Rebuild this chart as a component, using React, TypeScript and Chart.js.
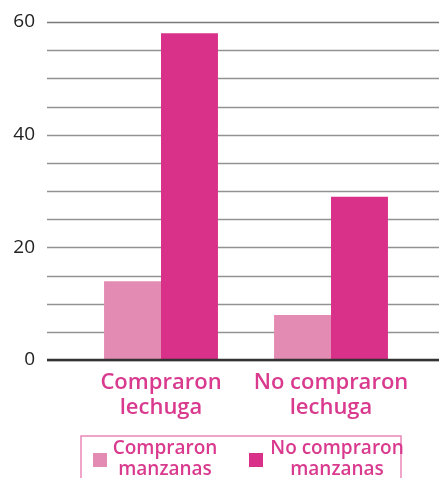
import React, { useEffect, useRef } from "react";
import { Chart, registerables } from "chart.js";

Chart.register(...registerables);

// Categories and series
const categories: string[][] = [["Compraron", "lechuga"], ["No compraron", "lechuga"]];
const seriesNames: string[][] = [["Compraron", "manzanas"], ["No compraron", "manzanas"]];
const compraronManzanas: number[] = [14, 8];
const noCompraronManzanas: number[] = [58, 29];
const yTicks: number[] = [0, 20, 40, 60];
const gridStep = 5;

const LIGHT = "#e48bb4";
const DARK = "#d9308a";
const LABEL = "#d93a8e";
const FONT = "'Open Sans', 'DejaVu Sans', sans-serif";

// Horizontal grid lines running the full width of the canvas
const gridPlugin = {
  id: "wideGrid",
  beforeDatasetsDraw(chart: any) {
    const { ctx, scales } = chart;
    const y = scales.y;
    ctx.save();
    for (let v = y.min; v <= y.max; v += gridStep) {
      const py = Math.round(y.getPixelForValue(v)) + 0.5;
      ctx.beginPath();
      ctx.strokeStyle = v === 60 ? "#7a7a7a" : "#929292";
      ctx.lineWidth = 1.5;
      ctx.moveTo(47, py);
      ctx.lineTo(chart.width, py);
      ctx.stroke();
    }
    ctx.restore();
  },
  afterDatasetsDraw(chart: any) {
    const { ctx, scales } = chart;
    const py = scales.y.getPixelForValue(0);
    ctx.save();
    ctx.beginPath();
    ctx.strokeStyle = "#333333";
    ctx.lineWidth = 2.5;
    ctx.moveTo(47, py);
    ctx.lineTo(chart.width, py);
    ctx.stroke();
    ctx.restore();
  },
};

// Boxed legend with two-line labels under the axis labels
const legendPlugin = {
  id: "boxLegend",
  afterDraw(chart: any) {
    const { ctx } = chart;
    const top = chart.chartArea.bottom + 76;
    ctx.save();
    ctx.strokeStyle = "#ea86b7";
    ctx.lineWidth = 1.5;
    ctx.strokeRect(81, top, 320, 60);
    const items = [
      { x: 93, textX: 165 },
      { x: 249, textX: 337 },
    ];
    chart.data.datasets.forEach((ds: any, i: number) => {
      const it = items[i];
      ctx.fillStyle = ds.backgroundColor;
      ctx.fillRect(it.x, top + 17, 14, 14);
      ctx.fillStyle = LABEL;
      ctx.font = `600 19px ${FONT}`;
      ctx.textAlign = "center";
      ctx.textBaseline = "middle";
      const lines: string[] = seriesNames[i];
      lines.forEach((ln, k) => {
        ctx.fillText(ln, it.textX, top + 13 + k * 21);
      });
    });
    ctx.restore();
  },
};

export default function App() {
  const ref = useRef<HTMLCanvasElement>(null);

  useEffect(() => {
    if (!ref.current) return;
    const chart = new Chart(ref.current, {
      type: "bar",
      data: {
        labels: categories,
        datasets: [
          {
            label: seriesNames[0].join(" "),
            data: compraronManzanas,
            backgroundColor: LIGHT,
            borderWidth: 0,
          },
          {
            label: seriesNames[1].join(" "),
            data: noCompraronManzanas,
            backgroundColor: DARK,
            borderWidth: 0,
          },
        ],
      },
      options: {
        animation: false,
        responsive: false,
        maintainAspectRatio: false,
        layout: { padding: { top: 22, right: 23, bottom: 53, left: 0 } },
        datasets: {
          bar: { categoryPercentage: 0.67, barPercentage: 1.0 },
        },
        plugins: {
          legend: { display: false },
          tooltip: { enabled: false },
        },
        scales: {
          x: {
            grid: { display: false, drawTicks: false },
            border: { display: false },
            ticks: {
              color: LABEL,
              padding: 11,
              font: { family: FONT, size: 22, weight: "600", lineHeight: 1.1 },
            },
            afterFit(scale: any) {
              scale.height = 65;
            },
          },
          y: {
            min: 0,
            max: 60,
            afterBuildTicks(scale: any) {
              scale.ticks = yTicks.map((v) => ({ value: v }));
            },
            grid: { display: false, drawTicks: false },
            border: { display: false },
            ticks: {
              color: "#222222",
              padding: 41,
              font: { family: FONT, size: 19 },
            },
            afterFit(scale: any) {
              scale.width = 76;
              scale.paddingTop = 0;
              scale.paddingBottom = 0;
            },
          },
        },
      },
      plugins: [gridPlugin, legendPlugin],
    });
    return () => chart.destroy();
  }, []);

  return (
    <div style={{ position: "absolute", left: 0, top: 0, width: 439, height: 478 }}>
      <canvas ref={ref} width={439} height={478} style={{ display: "block" }} />
    </div>
  );
}
